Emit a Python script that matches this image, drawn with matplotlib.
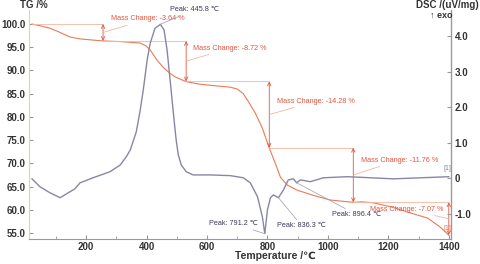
import numpy as np
import matplotlib.pyplot as plt
from matplotlib.ticker import MultipleLocator

plt.rcParams['font.family'] = ['Liberation Sans', 'DejaVu Sans']

# TG curve (temperature in C, mass in %)
tg_temp = [21, 50, 80, 110, 147, 180, 213, 256, 320, 379, 398, 412, 435, 455,
           475, 495, 531, 570, 611, 677, 700, 720, 734, 760, 783, 800, 806, 826,
           843, 866, 899, 952, 1008, 1084, 1114, 1150, 1210, 1264, 1330, 1373,
           1400]
tg_mass = [100.0, 99.6, 99.1, 98.3, 97.2, 96.8, 96.6, 96.36, 96.2, 95.9, 95.3,
           94.4, 92.2, 90.7, 89.5, 88.6, 87.6, 87.1, 86.8, 86.4, 86.0, 85.0,
           83.6, 80.8, 77.6, 74.4, 73.3, 70.0, 67.0, 65.3, 64.2, 63.1, 62.1,
           61.6, 61.7, 61.5, 60.6, 59.5, 58.2, 56.2, 54.5]

# DSC curve (uV/mg)
dsc_temp = [21, 47, 80, 114, 147, 163, 180, 223, 279, 313, 333, 346, 366, 379,
            389, 402, 412, 428, 445.8, 458, 468, 478, 491, 498, 505, 515, 531,
            554, 611, 677, 720, 743, 767, 783, 791.2, 800, 810, 820, 836.3, 853,
            869, 886, 896.4, 909, 942, 985, 1065, 1217, 1400]
dsc_val = [-0.01, -0.23, -0.40, -0.54, -0.37, -0.29, -0.12, 0.02, 0.19, 0.38,
           0.61, 0.80, 1.31, 1.92, 2.48, 3.33, 3.80, 4.22, 4.33, 4.17, 3.60,
           2.76, 1.64, 1.08, 0.66, 0.38, 0.19, 0.10, 0.10, 0.08, 0.02, -0.12,
           -0.51, -1.07, -1.55, -0.88, -0.54, -0.46, -0.54, -0.32, -0.04, -0.01,
           -0.12, -0.04, -0.09, 0.02, 0.05, -0.01, 0.05]

# mass change steps
step_temp = [256, 531, 806, 1084, 1400]
mass_change = [-3.64, -8.72, -14.28, -11.76, -7.07]
label_temp = [283, 555, 833, 1108, 1383]
label_mass = [101.1, 94.8, 83.4, 70.7, 60.1]

# DSC peaks
peak_temp = [445.8, 791.2, 836.3, 896.4]
peak_val = [4.33, -1.55, -0.54, -0.12]
peak_label_temp = [478, 605, 833, 1015]
peak_label_val = [4.74, -1.27, -1.33, -1.02]

tg_color = '#ea7a58'
dsc_color = '#8886a6'
note_color = '#e0553f'
text_color = '#333333'

fig = plt.figure(figsize=(4.8, 2.64), dpi=100)
ax = fig.add_axes([0.0604, 0.0947, 0.879, 0.867])
ax2 = ax.twinx()

ax.plot(tg_temp, tg_mass, color=tg_color, lw=0.8, solid_joinstyle='round')
ax2.plot(dsc_temp, dsc_val, color=dsc_color, lw=1.0, solid_joinstyle='round')

ax.set_xlim(11, 1407)
ax.set_ylim(53.7, 103)
ax2.set_ylim(-1.70, 4.73)

# mass change construction lines
levels = [100.0]
for m in mass_change:
    levels.append(levels[-1] + m)
starts = [tg_temp[0]] + step_temp[:-1]
for k in range(len(step_temp)):
    ax.plot([starts[k], step_temp[k]], [levels[k], levels[k]],
            color='#f6b8a0', lw=0.6)
    ax.annotate('', xy=(step_temp[k], levels[k + 1]), xytext=(step_temp[k], levels[k]),
                arrowprops=dict(arrowstyle='<->,head_length=0.25,head_width=0.12',
                                color=note_color, lw=0.6, shrinkA=0, shrinkB=0))
    mid = (levels[k] + levels[k + 1]) / 2
    ha = 'right' if k == len(step_temp) - 1 else 'left'
    ax.annotate('Mass Change: %.2f %%' % mass_change[k],
                xy=(step_temp[k], mid), xytext=(label_temp[k], label_mass[k]),
                fontsize=5.2, color=note_color, ha=ha, va='center',
                arrowprops=dict(arrowstyle='-', color='#f0a890', lw=0.5,
                                shrinkA=0, shrinkB=0))

# peak labels
for k in range(len(peak_temp)):
    ax2.annotate('Peak: %.1f \u2103' % peak_temp[k],
                 xy=(peak_temp[k], peak_val[k]),
                 xytext=(peak_label_temp[k], peak_label_val[k]),
                 fontsize=5.2, color='#3a3a5a', ha='left', va='center',
                 arrowprops=dict(arrowstyle='-', color='#9a9ab0', lw=0.5,
                                 shrinkA=0, shrinkB=0))

ax2.text(1397, 0.25, '[1]', fontsize=5, color=dsc_color, ha='center')
ax.text(1397, 55.6, '[1]', fontsize=5, color=tg_color, ha='center')

# axes styling
ax.spines['top'].set_visible(False)
ax2.spines['top'].set_visible(False)
ax.spines['left'].set_color('#f7c9a0')
ax2.spines['left'].set_visible(False)
ax2.spines['right'].set_color('#999999')
ax.spines['bottom'].set_color('#999999')
ax2.spines['bottom'].set_visible(False)

ax.xaxis.set_minor_locator(MultipleLocator(100))
ax.set_xticks(range(200, 1401, 200))
ax.set_yticks(np.arange(55, 100.1, 5))
ax.set_yticklabels(['%.1f' % v for v in np.arange(55, 100.1, 5)])
ax2.set_yticks([-1, 0, 1, 2, 3, 4])
ax2.set_yticklabels(['-1.0', '0', '1.0', '2.0', '3.0', '4.0'])

for a in (ax, ax2):
    a.tick_params(which='both', direction='in', labelsize=7, colors='#999999',
                  labelcolor=text_color, pad=2.5)
    a.tick_params(which='major', length=3)
    a.tick_params(which='minor', length=2)
    for lbl in a.get_xticklabels() + a.get_yticklabels():
        lbl.set_fontweight('bold')

fig.text(0.042, 0.981, 'TG /%', fontsize=7, fontweight='bold', color=text_color,
         ha='left', va='center')
fig.text(0.998, 0.981, 'DSC /(uV/mg)', fontsize=7, fontweight='bold',
         color=text_color, ha='right', va='center')
fig.text(0.919, 0.943, '\u2191 exo', fontsize=6.5, fontweight='bold',
         color=text_color, ha='center', va='center')
fig.text(0.573, 0.030, 'Temperature /\u2103', fontsize=7.5, fontweight='bold',
         color=text_color, ha='center', va='center')

fig.savefig('out.png', dpi=100)
